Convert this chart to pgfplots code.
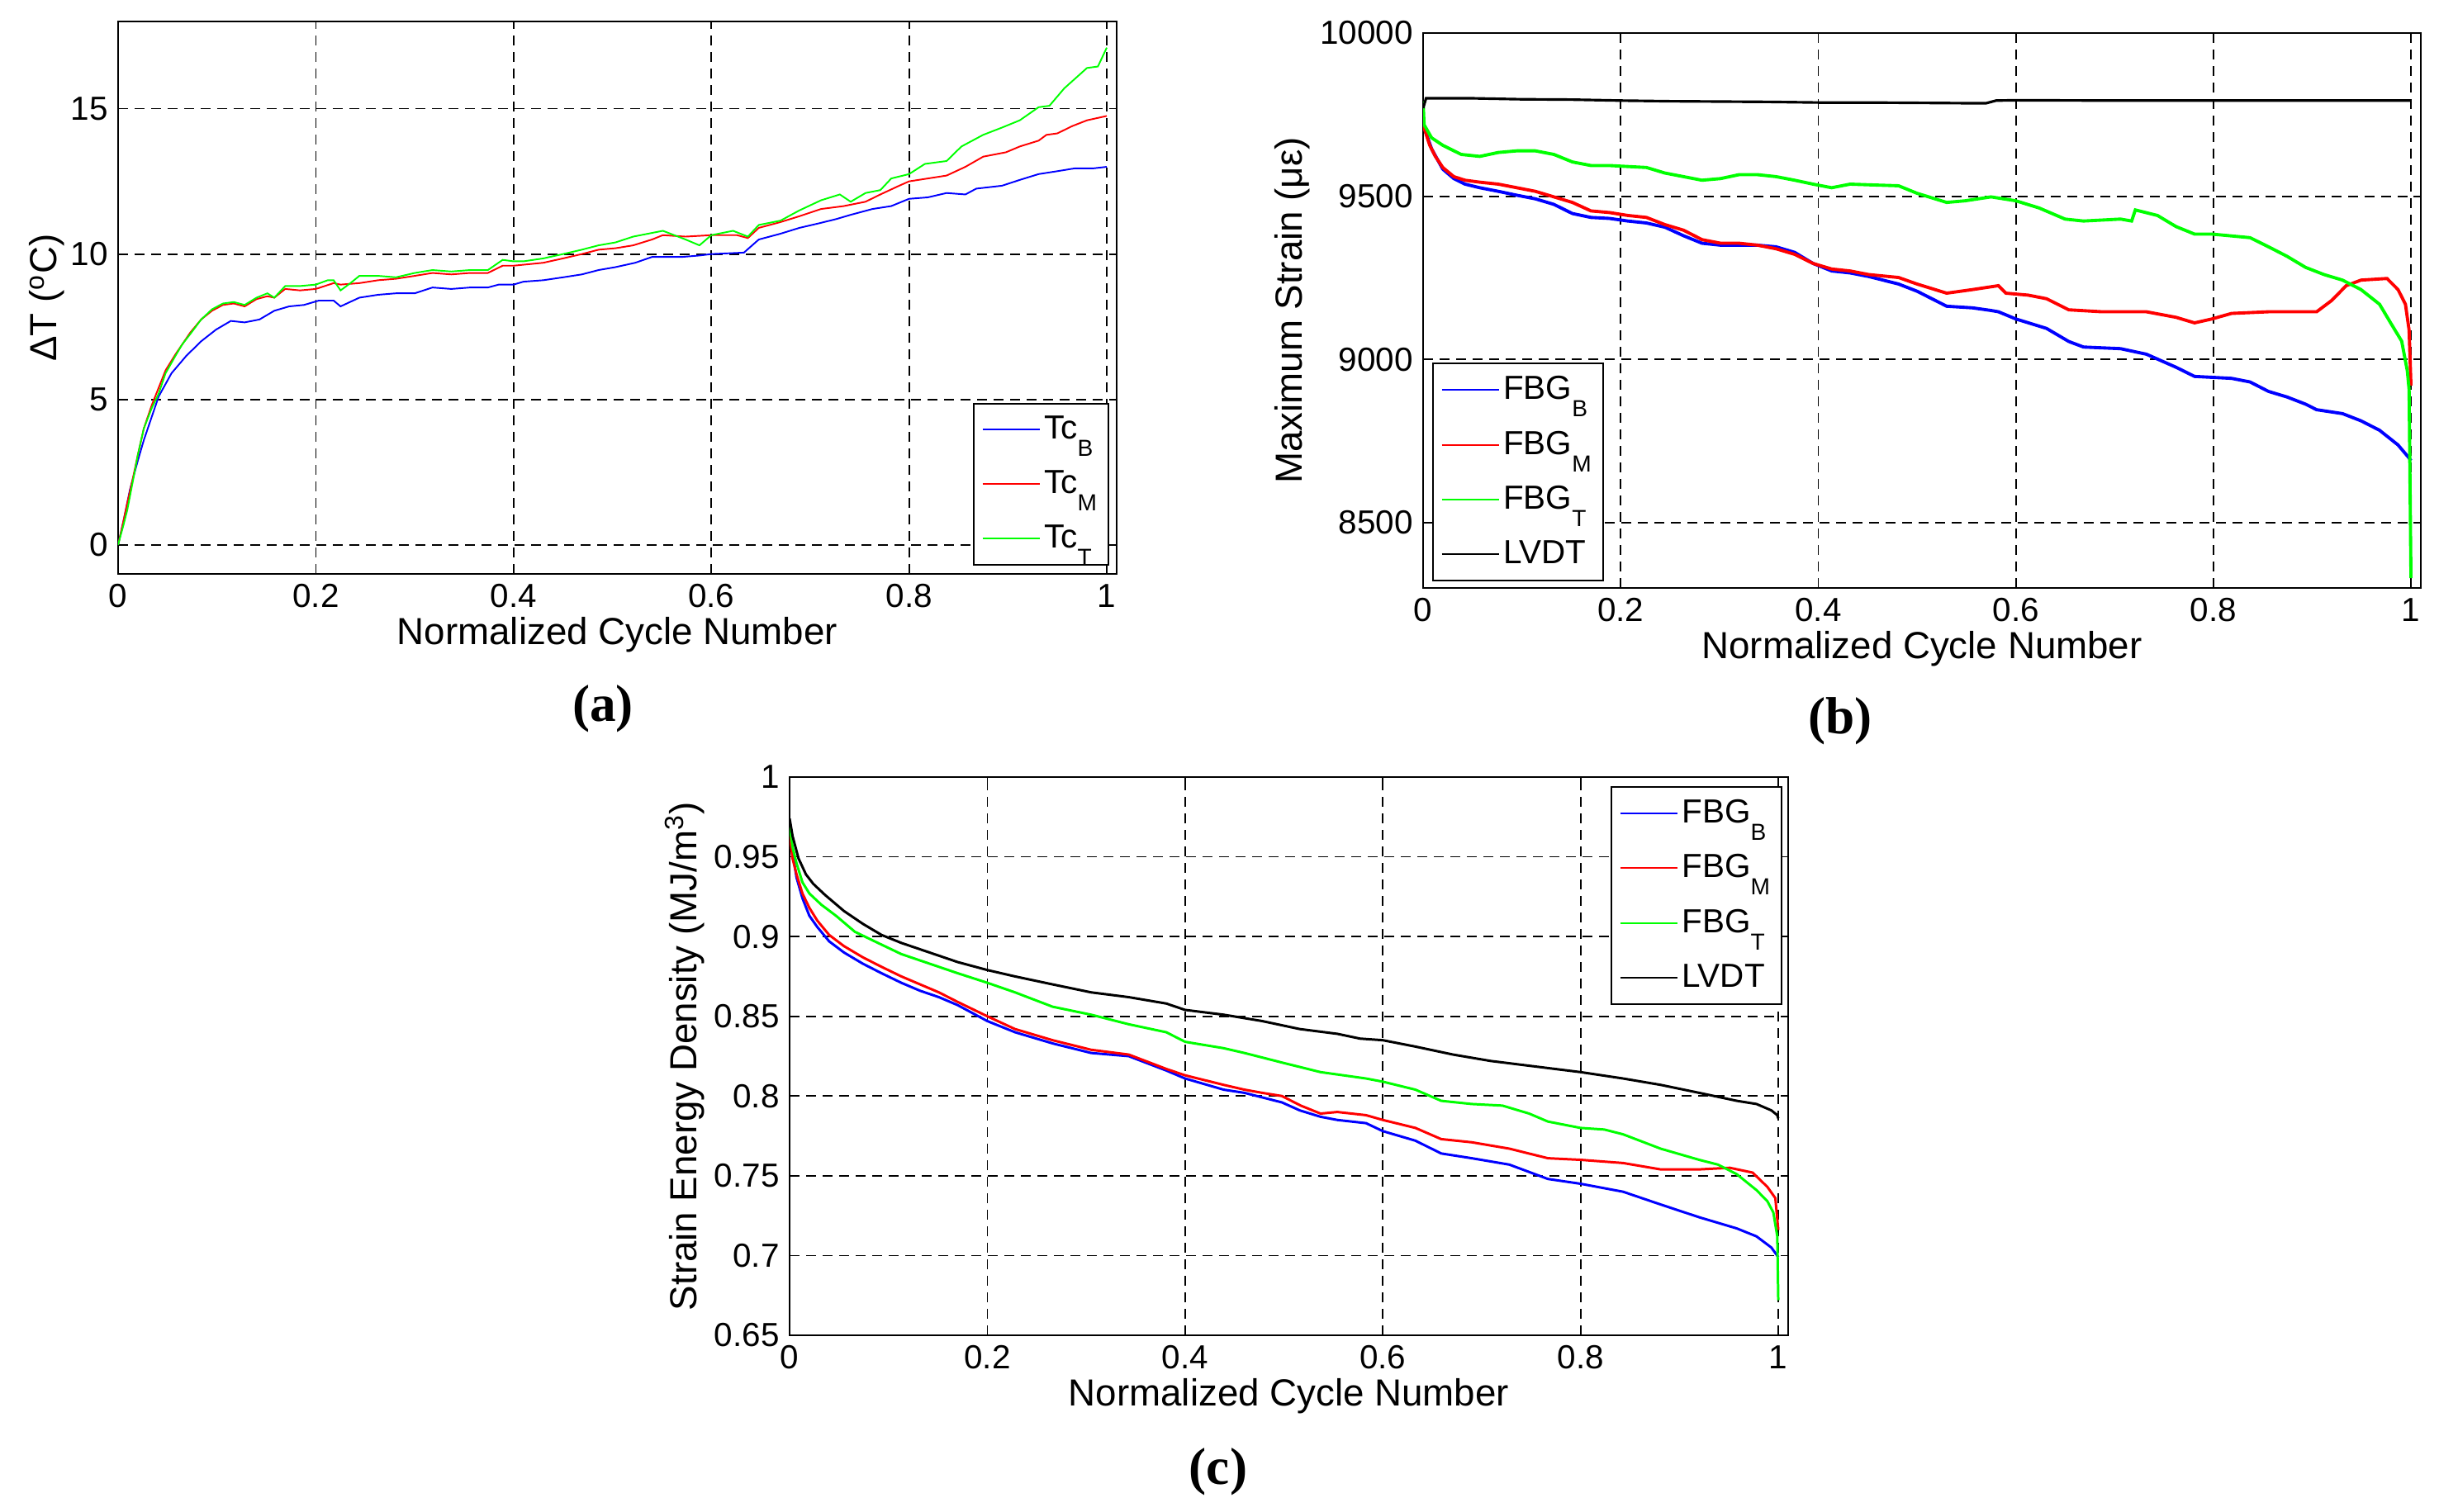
\documentclass[border=0pt]{standalone}
\usepackage{fontspec}
\setmainfont{Liberation Sans}
\newfontfamily\capfont{Liberation Serif}
\usepackage{pgfplots}
\pgfplotsset{compat=1.18}
\newcommand\sub[1]{\raisebox{-2.1mm}{\fontsize{8}{8}\selectfont #1}}
\definecolor{mblue}{RGB}{0,0,255}
\definecolor{mred}{RGB}{255,0,0}
\definecolor{mgreen}{RGB}{0,255,0}
\pgfplotsset{
  common/.style={
    scale only axis, anchor=south west,
    xmin=0, xmax=1.01,
    xtick={0,0.2,0.4,0.6,0.8,1}, xticklabels={0,0.2,0.4,0.6,0.8,1},
    scaled y ticks=false, scaled x ticks=false,
    grid=major,
    major grid style={black, line width=0.5pt, dash pattern=on 1.2mm off 0.8mm},
    axis line style={black, line width=0.65pt},
    tick style={black, line width=0.5pt},
    major tick length=0.9mm,
    tick label style={font=\fontsize{11.5}{13}\selectfont},
    label style={font=\fontsize{13}{15}\selectfont},
    xlabel={Normalized Cycle Number},
    xlabel style={at={(axis description cs:0.5,0)}, anchor=center, yshift=-7.4mm},
    legend cell align=left,
    legend image code/.code={\draw[#1, line width=0.6pt] (0mm,0mm) -- (6.9mm,0mm);},
    legend style={draw=black, line width=0.6pt, fill=white,
      font=\fontsize{11.5}{13}\selectfont,
      inner xsep=0.95mm, inner ysep=1.2mm, row sep=2.7mm,
      nodes={inner xsep=0.45mm, inner ysep=0.3mm}},
  }
}
\begin{document}
\begin{tikzpicture}
\path[use as bounding box] (0,0) rectangle (295.3mm,183.1mm);

% ---------------- (a)
\begin{axis}[common, at={(14.3mm,113.6mm)}, width=120.9mm, height=66.9mm,
  ymin=-1, ymax=18, ytick={0,5,10,15}, yticklabels={0,5,10,15},
  ylabel={ΔT (\textsuperscript{o}C)},
  ylabel style={at={(axis description cs:-0.071,0.5)}, anchor=center},
  legend style={at={(axis description cs:1,0)}, anchor=south east, xshift=-0.9mm, yshift=1mm},
  every axis plot/.append style={line width=0.55pt}]
\addplot[mblue] coordinates {(0,0) (0.006,0.9) (0.012,1.9) (0.02,2.9) (0.026,3.6) (0.032,4.2) (0.041,5.1) (0.054,5.9) (0.069,6.5) (0.084,7.0) (0.099,7.4) (0.114,7.7) (0.128,7.65) (0.143,7.75) (0.158,8.05) (0.173,8.2) (0.188,8.25) (0.203,8.4) (0.218,8.4) (0.225,8.2) (0.244,8.5) (0.263,8.6) (0.281,8.65) (0.300,8.65) (0.318,8.85) (0.337,8.8) (0.356,8.85) (0.374,8.85) (0.385,8.95) (0.4,8.95) (0.41,9.05) (0.43,9.1) (0.45,9.2) (0.469,9.3) (0.486,9.45) (0.503,9.55) (0.523,9.7) (0.540,9.9) (0.570,9.9) (0.588,9.95) (0.6,10.0) (0.633,10.05) (0.648,10.5) (0.670,10.7) (0.689,10.9) (0.708,11.05) (0.726,11.2) (0.741,11.35) (0.763,11.55) (0.782,11.65) (0.8,11.9) (0.819,11.95) (0.838,12.1) (0.857,12.05) (0.868,12.25) (0.894,12.35) (0.912,12.55) (0.931,12.75) (0.950,12.85) (0.968,12.95) (0.987,12.95) (1.0,13.0)};
\addlegendentry{Tc\sub{B}}
\addplot[mred] coordinates {(0,0) (0.004,0.6) (0.009,1.4) (0.015,2.3) (0.020,3.1) (0.026,4.0) (0.034,4.8) (0.041,5.4) (0.048,6.0) (0.058,6.55) (0.065,6.9) (0.073,7.3) (0.084,7.75) (0.095,8.05) (0.106,8.25) (0.117,8.3) (0.128,8.2) (0.140,8.45) (0.151,8.55) (0.158,8.5) (0.169,8.8) (0.184,8.75) (0.2,8.8) (0.218,9.0) (0.225,8.95) (0.244,9.0) (0.263,9.1) (0.281,9.15) (0.3,9.25) (0.318,9.35) (0.337,9.3) (0.356,9.35) (0.374,9.35) (0.389,9.6) (0.4,9.6) (0.43,9.7) (0.45,9.85) (0.469,10.0) (0.486,10.15) (0.503,10.2) (0.521,10.3) (0.540,10.5) (0.551,10.65) (0.574,10.6) (0.6,10.65) (0.626,10.65) (0.637,10.55) (0.648,10.9) (0.670,11.1) (0.689,11.3) (0.711,11.55) (0.734,11.65) (0.756,11.8) (0.771,12.05) (0.790,12.35) (0.8,12.5) (0.819,12.6) (0.838,12.7) (0.857,13.0) (0.875,13.35) (0.898,13.5) (0.912,13.7) (0.931,13.9) (0.939,14.1) (0.950,14.15) (0.965,14.4) (0.980,14.6) (1.0,14.75)};
\addlegendentry{Tc\sub{M}}
\addplot[mgreen] coordinates {(0,0) (0.0056,0.7) (0.0093,1.2) (0.015,2.2) (0.020,3.1) (0.026,4.0) (0.034,4.7) (0.041,5.2) (0.048,5.9) (0.058,6.5) (0.065,6.9) (0.073,7.25) (0.084,7.75) (0.095,8.1) (0.106,8.3) (0.117,8.35) (0.128,8.25) (0.140,8.5) (0.151,8.65) (0.158,8.5) (0.169,8.9) (0.184,8.9) (0.2,8.95) (0.212,9.1) (0.218,9.1) (0.225,8.75) (0.235,9.0) (0.244,9.25) (0.263,9.25) (0.281,9.2) (0.3,9.35) (0.318,9.45) (0.337,9.4) (0.356,9.45) (0.374,9.45) (0.389,9.8) (0.4,9.75) (0.41,9.75) (0.43,9.85) (0.45,10.0) (0.469,10.15) (0.486,10.3) (0.503,10.4) (0.521,10.6) (0.551,10.8) (0.574,10.5) (0.588,10.3) (0.6,10.65) (0.622,10.8) (0.637,10.6) (0.648,11.0) (0.670,11.15) (0.689,11.5) (0.711,11.85) (0.730,12.05) (0.741,11.8) (0.756,12.1) (0.771,12.2) (0.782,12.6) (0.8,12.75) (0.816,13.1) (0.838,13.2) (0.853,13.7) (0.875,14.1) (0.894,14.35) (0.912,14.6) (0.931,15.05) (0.942,15.1) (0.957,15.7) (0.980,16.4) (0.991,16.45) (1.0,17.1)};
\addlegendentry{Tc\sub{T}}
\end{axis}

% ---------------- (b)
\begin{axis}[common, at={(172.3mm,111.9mm)}, width=120.8mm, height=67.2mm,
  ymin=8300, ymax=10000, ytick={8500,9000,9500,10000}, yticklabels={8500,9000,9500,10000},
  ylabel={Maximum Strain (με)},
  ylabel style={at={(axis description cs:-0.131,0.5)}, anchor=center},
  legend style={at={(axis description cs:0,0)}, anchor=south west, xshift=1.1mm, yshift=0.8mm},
  every axis plot/.append style={line width=1.1pt}]
\addplot[mblue] coordinates {(0,9719) (0.0086,9645) (0.0199,9583) (0.0311,9554) (0.0424,9537) (0.0574,9526) (0.0761,9515) (0.0949,9503) (0.1136,9492) (0.1324,9475) (0.1511,9447) (0.1699,9435) (0.1886,9432) (0.2073,9424) (0.2261,9418) (0.2448,9405) (0.2636,9379) (0.2823,9356) (0.3011,9350) (0.3386,9350) (0.3573,9345) (0.3761,9328) (0.3948,9294) (0.4136,9271) (0.4323,9265) (0.4511,9254) (0.4813,9231) (0.5,9209) (0.53,9163) (0.5562,9158) (0.5749,9150) (0.5824,9146) (0.6,9124) (0.6311,9095) (0.6536,9055) (0.6685,9038) (0.706,9033) (0.7322,9016) (0.7622,8976) (0.7809,8948) (0.8184,8942) (0.8371,8931) (0.8558,8902) (0.8745,8885) (0.8933,8863) (0.9045,8846) (0.9307,8834) (0.9494,8812) (0.9682,8783) (0.9869,8738) (0.9981,8698) (1.0,8690)};
\addlegendentry{FBG\sub{B}}
\addplot[mred] coordinates {(0,9719) (0.0067,9656) (0.0124,9622) (0.0199,9588) (0.0311,9560) (0.0424,9549) (0.0574,9543) (0.0761,9537) (0.0949,9526) (0.1136,9515) (0.1324,9498) (0.1511,9481) (0.1699,9455) (0.1886,9450) (0.2073,9441) (0.2261,9435) (0.2448,9413) (0.2636,9396) (0.2823,9367) (0.3011,9356) (0.3198,9356) (0.3386,9350) (0.3573,9339) (0.3761,9322) (0.3948,9294) (0.4136,9277) (0.4323,9271) (0.4511,9260) (0.4813,9251) (0.5,9231) (0.53,9203) (0.5562,9214) (0.5824,9226) (0.5899,9203) (0.6124,9197) (0.6311,9186) (0.6536,9152) (0.6873,9146) (0.7322,9146) (0.7622,9129) (0.7809,9112) (0.7985,9124) (0.8184,9141) (0.8558,9146) (0.9045,9146) (0.9195,9180) (0.9345,9226) (0.9494,9243) (0.9757,9248) (0.9869,9214) (0.9944,9169) (0.9981,9090) (1.0,8920)};
\addlegendentry{FBG\sub{M}}
\addplot[mgreen] coordinates {(0,9790) (0.001,9719) (0.0086,9679) (0.0199,9656) (0.0386,9628) (0.0574,9622) (0.0761,9634) (0.0949,9639) (0.1136,9639) (0.1324,9628) (0.1511,9605) (0.1699,9594) (0.1886,9594) (0.2073,9591) (0.2261,9588) (0.2448,9571) (0.2636,9560) (0.2823,9549) (0.3011,9554) (0.3198,9566) (0.3386,9566) (0.3573,9560) (0.3761,9549) (0.3948,9537) (0.4136,9526) (0.4323,9537) (0.4511,9535) (0.4813,9532) (0.5,9509) (0.53,9481) (0.5487,9486) (0.5749,9498) (0.6,9486) (0.6236,9464) (0.6498,9430) (0.6685,9424) (0.706,9430) (0.7172,9424) (0.721,9458) (0.7434,9441) (0.7622,9407) (0.7809,9384) (0.7985,9384) (0.8371,9373) (0.8558,9345) (0.8745,9316) (0.8933,9282) (0.912,9260) (0.9307,9243) (0.9494,9214) (0.9682,9169) (0.9794,9112) (0.9906,9056) (0.9963,8965) (0.9981,8908) (1.0,8330)};
\addlegendentry{FBG\sub{T}}
\addplot[black, line width=0.9pt] coordinates {(0,9770) (0.003,9800) (0.05,9800) (0.1,9797) (0.15,9796) (0.2,9793) (0.25,9791) (0.3,9790) (0.35,9789) (0.4,9787) (0.45,9787) (0.5,9786) (0.55,9785) (0.57,9785) (0.58,9793) (0.6,9794) (0.7,9793) (0.8,9793) (0.9,9793) (1.0,9793)};
\addlegendentry{LVDT}
\end{axis}

% ---------------- (c)
\begin{axis}[common, at={(95.6mm,21.4mm)}, width=120.9mm, height=67.6mm,
  ymin=0.65, ymax=1, ytick={0.65,0.7,0.75,0.8,0.85,0.9,0.95,1},
  yticklabels={0.65,0.7,0.75,0.8,0.85,0.9,0.95,1},
  ylabel={Strain Energy Density (MJ/m\textsuperscript{3})},
  ylabel style={at={(axis description cs:-0.105,0.5)}, anchor=center},
  legend style={at={(axis description cs:1,1)}, anchor=north east, xshift=-0.7mm, yshift=-1.1mm},
  every axis plot/.append style={line width=0.85pt}]
\addplot[mblue] coordinates {(0,0.965) (0.007,0.937) (0.013,0.924) (0.020,0.913) (0.028,0.906) (0.040,0.897) (0.055,0.890) (0.074,0.883) (0.093,0.877) (0.113,0.871) (0.132,0.866) (0.151,0.862) (0.170,0.857) (0.2,0.847) (0.228,0.840) (0.266,0.833) (0.305,0.827) (0.343,0.825) (0.381,0.816) (0.4,0.811) (0.439,0.804) (0.46,0.802) (0.498,0.796) (0.516,0.791) (0.537,0.787) (0.554,0.785) (0.583,0.783) (0.6,0.778) (0.633,0.772) (0.659,0.764) (0.69,0.761) (0.728,0.757) (0.767,0.748) (0.8,0.745) (0.843,0.740) (0.881,0.732) (0.920,0.724) (0.958,0.717) (0.978,0.712) (0.993,0.705) (1.0,0.699)};
\addlegendentry{FBG\sub{B}}
\addplot[mred] coordinates {(0,0.965) (0.003,0.949) (0.007,0.939) (0.013,0.927) (0.020,0.918) (0.028,0.910) (0.040,0.901) (0.055,0.894) (0.074,0.887) (0.093,0.881) (0.113,0.875) (0.132,0.870) (0.151,0.865) (0.170,0.859) (0.2,0.850) (0.228,0.842) (0.266,0.835) (0.305,0.829) (0.343,0.826) (0.381,0.817) (0.4,0.813) (0.439,0.807) (0.46,0.804) (0.478,0.802) (0.498,0.800) (0.517,0.794) (0.537,0.789) (0.554,0.790) (0.583,0.788) (0.6,0.785) (0.633,0.780) (0.659,0.773) (0.69,0.771) (0.728,0.767) (0.767,0.761) (0.8,0.760) (0.843,0.758) (0.881,0.754) (0.920,0.754) (0.951,0.755) (0.974,0.752) (0.989,0.743) (0.997,0.736) (1.0,0.716)};
\addlegendentry{FBG\sub{M}}
\addplot[mgreen] coordinates {(0,0.970) (0.003,0.956) (0.007,0.946) (0.013,0.934) (0.020,0.927) (0.032,0.920) (0.047,0.913) (0.066,0.903) (0.086,0.897) (0.113,0.889) (0.151,0.881) (0.170,0.877) (0.2,0.871) (0.228,0.865) (0.266,0.856) (0.305,0.851) (0.343,0.845) (0.381,0.840) (0.4,0.834) (0.439,0.830) (0.46,0.827) (0.498,0.821) (0.537,0.815) (0.583,0.811) (0.6,0.809) (0.633,0.804) (0.659,0.797) (0.69,0.795) (0.721,0.794) (0.748,0.789) (0.767,0.784) (0.8,0.780) (0.824,0.779) (0.843,0.776) (0.881,0.767) (0.920,0.760) (0.939,0.757) (0.958,0.751) (0.978,0.741) (0.989,0.734) (0.995,0.727) (0.999,0.712) (1.0,0.672)};
\addlegendentry{FBG\sub{T}}
\addplot[black] coordinates {(0,0.974) (0.003,0.963) (0.009,0.949) (0.0165,0.939) (0.024,0.933) (0.036,0.926) (0.055,0.916) (0.074,0.908) (0.093,0.901) (0.113,0.896) (0.132,0.892) (0.151,0.888) (0.170,0.884) (0.2,0.879) (0.228,0.875) (0.266,0.870) (0.305,0.865) (0.343,0.862) (0.381,0.858) (0.4,0.854) (0.439,0.851) (0.478,0.847) (0.516,0.842) (0.554,0.839) (0.577,0.836) (0.6,0.835) (0.633,0.831) (0.671,0.826) (0.709,0.822) (0.748,0.819) (0.8,0.815) (0.843,0.811) (0.881,0.807) (0.920,0.802) (0.958,0.797) (0.978,0.795) (0.993,0.791) (0.999,0.788) (1.0,0.786)};
\addlegendentry{LVDT}
\end{axis}

% captions
\node[font=\capfont\bfseries\fontsize{18}{20}\selectfont] at (73.0mm,97.3mm) {(a)};
\node[font=\capfont\bfseries\fontsize{18}{20}\selectfont] at (222.8mm,95.8mm) {(b)};
\node[font=\capfont\bfseries\fontsize{18}{20}\selectfont] at (147.5mm,4.9mm) {(c)};
\end{tikzpicture}
\end{document}
